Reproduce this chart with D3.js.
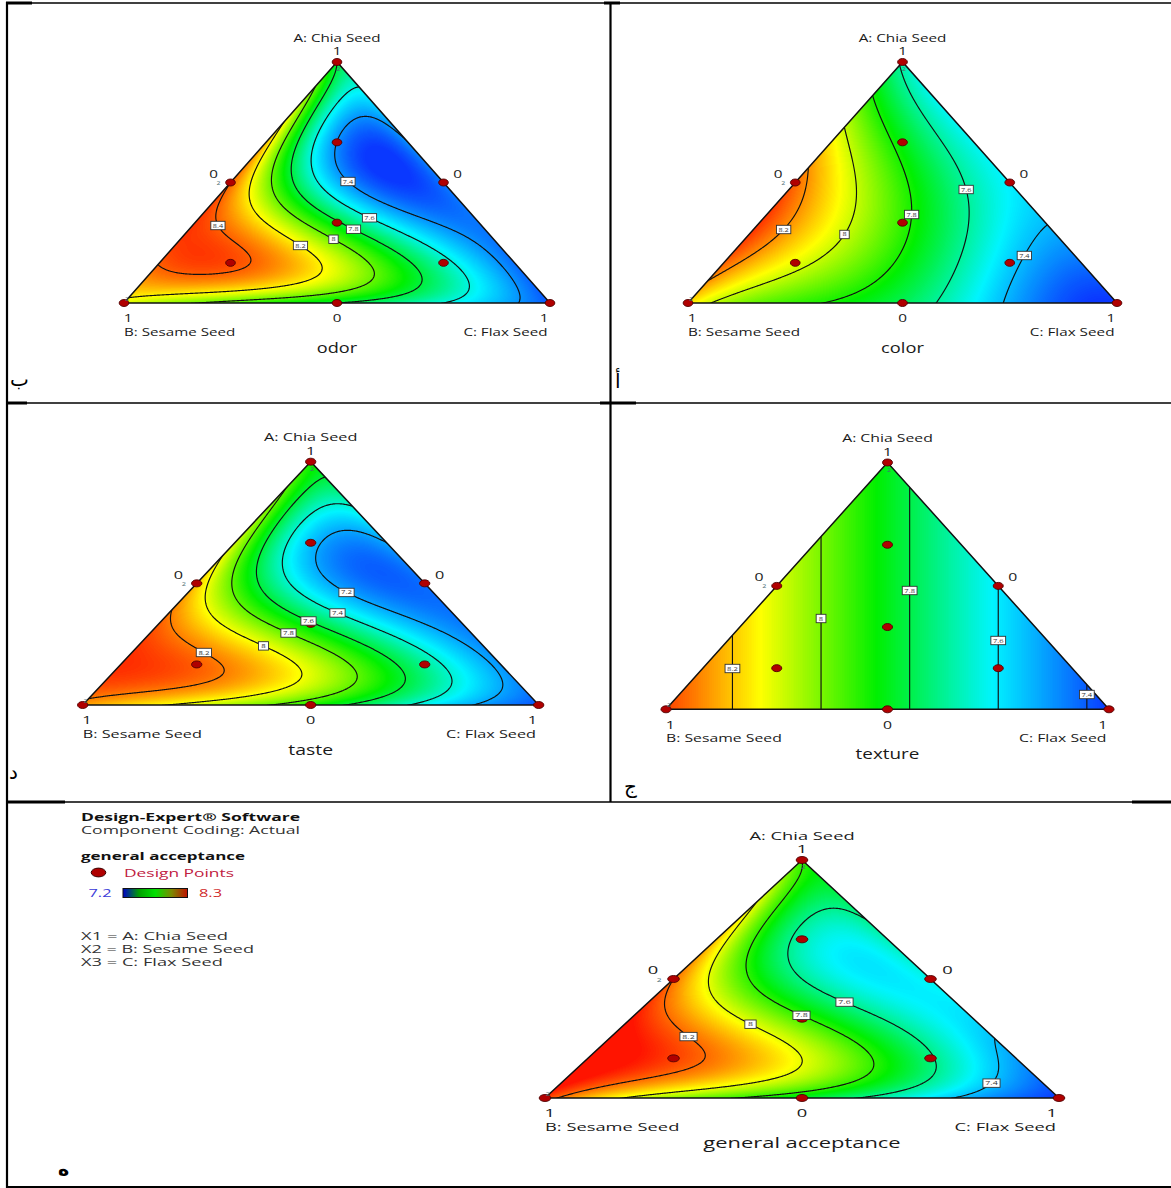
<!DOCTYPE html>
<html>
<head>
<meta charset="utf-8">
<script src="https://cdn.jsdelivr.net/npm/d3@7"></script>
<style>
  body { margin: 0; background: #fff; }
  svg { display: block; font-family: "Open Sans", "DejaVu Sans", sans-serif; }
</style>
</head>
<body>
<svg id="page" width="1171" height="1188"></svg>
<script>
const lattice = [
  [1, 0, 0],
  [.75, .25, 0], [.75, 0, .25],
  [.5, .5, 0], [.5, .25, .25], [.5, 0, .5],
  [.25, .75, 0], [.25, .5, .25], [.25, .25, .5], [.25, 0, .75],
  [0, 1, 0], [0, .75, .25], [0, .5, .5], [0, .25, .75], [0, 0, 1]
];

const odorValues       = [7.8, 8.2, 7.44, 8.4, 7.47, 7.36, 8.45, 8.25, 7.75, 7.35, 8.15, 7.95, 7.8, 7.6, 7.3];
const colorValues      = [7.58, 7.97, 7.5, 8.25, 7.82, 7.48, 8.3, 7.97, 7.63, 7.35, 8.1, 7.83, 7.68, 7.38, 7.2];
const tasteValues      = [7.7, 7.9, 7.3, 8.1, 7.29, 7.1, 8.3, 8.02, 7.58, 7.15, 8.15, 7.95, 7.7, 7.35, 7.05];
const textureValues    = [7.85, 7.975, 7.725, 8.1, 7.85, 7.6, 8.225, 7.975, 7.725, 7.475, 8.35, 8.1, 7.85, 7.6, 7.35];
const acceptanceValues = [7.8, 8.05, 7.6, 8.2, 7.6, 7.5, 8.35, 8.1, 7.75, 7.4, 8.25, 7.9, 7.7, 7.45, 7.2];

const odorLevels       = [7.4, 7.6, 7.8, 8, 8.2, 8.4];
const colorLevels      = [7.4, 7.6, 7.8, 8, 8.2];
const tasteLevels      = [7.2, 7.4, 7.6, 7.8, 8, 8.2];
const textureLevels    = [7.4, 7.6, 7.8, 8, 8.2];
const acceptanceLevels = [7.4, 7.6, 7.8, 8, 8.2];

// colour ramp ends (low -> blue, high -> red)
const odorRange       = [7.25, 8.5];
const colorRange      = [7.2, 8.35];
const tasteRange      = [7.0, 8.35];
const textureRange    = [7.35, 8.4];
const acceptanceRange = [7.2, 8.3];

const designPoints = [
  [1, 0, 0], [0, 1, 0], [0, 0, 1],
  [.5, .5, 0], [.5, 0, .5], [0, .5, .5],
  [1 / 3, 1 / 3, 1 / 3],
  [2 / 3, 1 / 6, 1 / 6], [1 / 6, 2 / 3, 1 / 6], [1 / 6, 1 / 6, 2 / 3]
];
const replicatePoints = [[1, 0, 0], [.5, .5, 0], [0, 1, 0]];

const rampStops = ["#0a38ff", "#00f4ff", "#00f000", "#ffff00", "#ff1400"];

// panel placement; label anchors are [level, A, C-B]
const panels = [
  {title: "odor", values: odorValues, levels: odorLevels, range: odorRange,
   tx: 337, ty: 62, by: 303, hw: 213,
   labelAt: [[7.4, .524, .072], [7.6, .39, .174], [7.8, .335, .095], [8, .289, 0], [8.2, .252, -.163], [8.4, .317, -.565]]},
  {title: "color", values: colorValues, levels: colorLevels, range: colorRange,
   tx: 902.5, ty: 62, by: 303, hw: 214.5,
   labelAt: [[8.2, .303, -.548], [8, .289, -.276], [7.8, .365, .055], [7.6, .478, .323], [7.4, .165, .633]]},
  {title: "taste", values: tasteValues, levels: tasteLevels, range: tasteRange,
   tx: 310.7, ty: 461.7, by: 705, hw: 228,
   labelAt: [[8.2, .214, -.468], [8, .26, -.2], [7.8, .318, -.088], [7.6, .366, 0], [7.4, .397, .125], [7.2, .48, .165]]},
  {title: "texture", values: textureValues, levels: textureLevels, range: textureRange,
   tx: 887.5, ty: 462.5, by: 709.3, hw: 221.5,
   labelAt: [[8.2, .167, -.707], [8, .366, -.306], [7.8, .48, .094], [7.6, .279, .493], [7.4, .078, .892]]},
  {title: "general acceptance", values: acceptanceValues, levels: acceptanceLevels, range: acceptanceRange,
   tx: 802, ty: 860, by: 1098, hw: 257,
   labelAt: [[8.2, .252, -.444], [8, .319, -.195], [7.8, .357, 0], [7.6, .416, .171], [7.4, .071, .732]]}
];

const svg = d3.select("#page");
const defs = svg.append("defs");

const ramp = d3.scaleLinear()
  .domain(rampStops.map((d, i) => i / (rampStops.length - 1)))
  .range(rampStops)
  .clamp(true);
const lut = d3.range(256).map(i => d3.rgb(ramp(i / 255)));

function basis(i, x) {
  let p = 1;
  for (let a = 0; a < i; a++) p *= (4 * x - a) / (i - a);
  return p;
}

function surface(values) {
  const idx = lattice.map(d => d.map(v => Math.round(v * 4)));
  return function(a, b, c) {
    let s = 0;
    for (let m = 0; m < idx.length; m++) {
      const k = idx[m];
      s += values[m] * basis(k[0], a) * basis(k[1], b) * basis(k[2], c);
    }
    return s;
  };
}

function txt(g, x, y, str, size, sx, anchor, opts = {}) {
  return g.append("text")
    .attr("transform", `translate(${x},${y}) scale(${sx},1)`)
    .attr("text-anchor", anchor)
    .attr("font-size", size)
    .attr("font-weight", opts.weight || "normal")
    .attr("fill", opts.fill || "#1a1a1a")
    .text(str);
}

function drawPanel(p, k) {
  const f = surface(p.values);
  const h = p.by - p.ty;
  const sx = 1.38 * p.hw / 213;
  const xy = d => [p.tx + p.hw * (d[2] - d[1]), p.by - h * d[0]];
  const g = svg.append("g");

  const corners = [[1, 0, 0], [0, 1, 0], [0, 0, 1]].map(xy);
  defs.append("clipPath").attr("id", "clip" + k)
    .append("polygon").attr("points", corners.map(c => c.join(",")).join(" "));

  // sample the fitted surface on a pixel grid
  const x0 = Math.floor(p.tx - p.hw) - 3, y0 = Math.floor(p.ty) - 3;
  const nx = Math.ceil(2 * p.hw) + 7, ny = Math.ceil(h) + 7;
  const grid = new Float64Array(nx * ny);
  for (let j = 0; j < ny; j++) {
    for (let i = 0; i < nx; i++) {
      const a = (p.by - (y0 + j + .5)) / h;
      const u = (x0 + i + .5 - p.tx) / p.hw;
      grid[j * nx + i] = f(a, (1 - a - u) / 2, (1 - a + u) / 2);
    }
  }

  const canvas = document.createElement("canvas");
  canvas.width = nx; canvas.height = ny;
  const ctx = canvas.getContext("2d");
  const img = ctx.createImageData(nx, ny);
  const t = d3.scaleLinear().domain(p.range).range([0, 255]).clamp(true);
  for (let n = 0; n < grid.length; n++) {
    const c = lut[Math.round(t(grid[n]))];
    img.data[4 * n] = c.r; img.data[4 * n + 1] = c.g; img.data[4 * n + 2] = c.b; img.data[4 * n + 3] = 255;
  }
  ctx.putImageData(img, 0, 0);
  g.append("image")
    .attr("x", x0).attr("y", y0).attr("width", nx).attr("height", ny)
    .attr("preserveAspectRatio", "none")
    .attr("href", canvas.toDataURL())
    .attr("clip-path", `url(#clip${k})`);

  const contours = d3.contours().size([nx, ny]).thresholds(p.levels)(grid);
  const shift = d3.geoTransform({point(x, y) { this.stream.point(x0 + x, y0 + y); }});
  g.append("g").attr("clip-path", `url(#clip${k})`)
    .selectAll("path").data(contours).join("path")
      .attr("d", d3.geoPath(shift))
      .attr("fill", "none")
      .attr("stroke", "#111")
      .attr("stroke-width", 1.15);

  g.append("polygon")
    .attr("points", corners.map(c => c.join(",")).join(" "))
    .attr("fill", "none").attr("stroke", "#111").attr("stroke-width", 1.5);

  g.selectAll("ellipse").data(designPoints).join("ellipse")
    .attr("cx", d => xy(d)[0]).attr("cy", d => xy(d)[1])
    .attr("rx", 3.5 * sx).attr("ry", 3.5)
    .attr("fill", "#b00000").attr("stroke", "#500000").attr("stroke-width", .9);

  replicatePoints.forEach(d => {
    const [X, Y] = xy(d);
    const dx = d[0] === 1 ? 1.5 : d[1] === 1 ? 3 : -12 * p.hw / 213;
    const dy = d[0] === 1 ? 9 : d[1] === 1 ? -2 : 2.5;
    txt(g, X + dx, Y + dy, "2", 5, sx, "middle", {fill: "#4a6a70"});
  });

  // contour labels snapped onto their line
  const inside = (X, Y) => {
    const a = (p.by - Y) / h, u = (X - p.tx) / p.hw;
    return a > .02 && (1 - a - u) / 2 > .02 && (1 - a + u) / 2 > .02;
  };
  p.labelAt.forEach(([level, a, u]) => {
    const target = [p.tx + p.hw * u, p.by - h * a];
    const cont = contours.find(c => c.value === level);
    let best = target, bd = Infinity;
    if (cont) {
      cont.coordinates.forEach(poly => poly.forEach(ring => ring.forEach(([x, y]) => {
        const X = x0 + x, Y = y0 + y;
        if (!inside(X, Y)) return;
        const d = (X - target[0]) ** 2 + (Y - target[1]) ** 2;
        if (d < bd) { bd = d; best = [X, Y]; }
      })));
    }
    const str = String(level);
    const w = (str.length === 1 ? 6.8 : 10.3) * sx;
    g.append("rect")
      .attr("x", best[0] - w / 2).attr("y", best[1] - 4.2)
      .attr("width", w).attr("height", 8.4)
      .attr("fill", "#fff").attr("stroke", "#333").attr("stroke-width", .9);
    txt(g, best[0], best[1] + 2, str, 5.3, sx, "middle", {fill: "#333"});
  });

  // axis annotations
  const r = p.hw / 213;
  const [A, B, C] = corners;
  const midL = xy([.5, .5, 0]), midR = xy([.5, 0, .5]);
  txt(g, A[0], A[1] - 20.5, "A: Chia Seed", 11, sx, "middle");
  txt(g, A[0], A[1] - 6.8, "1", 11, sx, "middle");
  txt(g, midL[0] - 17 * r, midL[1] - 4.8, "0", 11, sx, "middle");
  txt(g, midR[0] + 14 * r, midR[1] - 4.8, "0", 11, sx, "middle");
  txt(g, B[0] + 4 * r, B[1] + 19.3, "1", 11, sx, "middle");
  txt(g, (B[0] + C[0]) / 2, B[1] + 19.3, "0", 11, sx, "middle");
  txt(g, C[0] - 6 * r, C[1] + 19.3, "1", 11, sx, "middle");
  txt(g, B[0], B[1] + 32.7, "B: Sesame Seed", 11, sx, "start");
  txt(g, C[0] - 2.5 * r, C[1] + 32.7, "C: Flax Seed", 11, sx, "end");
  txt(g, A[0], B[1] + 49.5, p.title, 14, sx * 0.94, "middle");
}

panels.forEach(drawPanel);

// legend of the general acceptance panel
const legend = svg.append("g");
function fitted(x, y, str, width, size, opts = {}) {
  return legend.append("text")
    .attr("x", x).attr("y", y)
    .attr("font-size", size)
    .attr("font-weight", opts.weight || "normal")
    .attr("fill", opts.fill || "#222")
    .attr("textLength", width).attr("lengthAdjust", "spacingAndGlyphs")
    .text(str);
}
fitted(81, 821, "Design-Expert® Software", 219, 10.5, {weight: "bold", fill: "#111"});
fitted(81, 833.5, "Component Coding: Actual", 219, 10.5, {fill: "#333"});
fitted(81, 860, "general acceptance", 164, 10.5, {weight: "bold", fill: "#111"});
legend.append("ellipse").attr("cx", 98.5).attr("cy", 872.5).attr("rx", 7.3).attr("ry", 4.4)
  .attr("fill", "#b00000").attr("stroke", "#3a0000").attr("stroke-width", 1);
fitted(124, 877, "Design Points", 110, 10.5, {fill: "#c02040"});
fitted(88.5, 897, acceptanceRange[0].toFixed(1), 23, 10.5, {fill: "#3a3ad8"});
fitted(199, 897, acceptanceRange[1].toFixed(1), 23, 10.5, {fill: "#d02828"});
const grad = defs.append("linearGradient").attr("id", "legendRamp");
grad.selectAll("stop").data(["#0000c8", "#00a000", "#00e000", "#7a8a00", "#c01000"]).join("stop")
  .attr("offset", (d, i) => i / 4).attr("stop-color", d => d);
legend.append("rect").attr("x", 123).attr("y", 888.5).attr("width", 64.5).attr("height", 9)
  .attr("fill", "url(#legendRamp)").attr("stroke", "#111").attr("stroke-width", 1);
fitted(81, 940, "X1 = A: Chia Seed", 147, 10.5, {fill: "#333"});
fitted(81, 953, "X2 = B: Sesame Seed", 173, 10.5, {fill: "#333"});
fitted(81, 966, "X3 = C: Flax Seed", 142, 10.5, {fill: "#333"});

// table rules of the page
const rules = [
  [6, 3, 1171, 3, 1.5], [7, 2, 7, 1188, 2.2], [610.5, 3, 610.5, 802, 2.2],
  [7, 403, 1171, 403, 1.5], [7, 802, 1171, 802, 1.5], [7, 1187, 1171, 1187, 2],
  [6, 3, 32, 3, 3], [604, 3, 620, 3, 3], [7, 403, 27, 403, 3], [600, 403, 636, 403, 3],
  [7, 802, 65, 802, 3], [1132, 802, 1171, 802, 3]
];
svg.append("g").selectAll("line").data(rules).join("line")
  .attr("x1", d => d[0]).attr("y1", d => d[1]).attr("x2", d => d[2]).attr("y2", d => d[3])
  .attr("stroke", "#000").attr("stroke-width", d => d[4]);

const captions = [["ب", 10, 386, 20], ["أ", 615, 388, 20], ["د", 9, 779, 20], ["ج", 624, 793, 20], ["ه", 58, 1176, 19]];
svg.append("g").selectAll("text").data(captions).join("text")
  .attr("x", d => d[1]).attr("y", d => d[2])
  .attr("font-size", d => d[3])
  .attr("font-family", "DejaVu Sans")
  .attr("font-weight", d => d[0] === "ه" ? "bold" : "normal")
  .attr("fill", "#000")
  .text(d => d[0]);
</script>
</body>
</html>
